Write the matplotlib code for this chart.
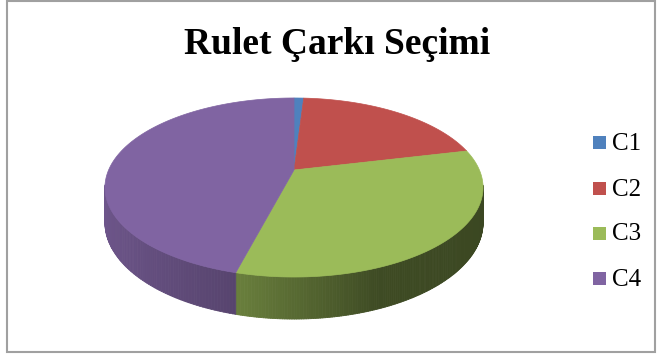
import numpy as np
import matplotlib.pyplot as plt
from matplotlib.patches import Polygon, Rectangle
from matplotlib.collections import PolyCollection
from matplotlib.colors import to_rgb

# Dados (porcentagens)
labels = ["C1", "C2", "C3", "C4"]
values = [1.0, 20.3, 32.8, 45.9]
colors = ["#4F81BD", "#C0504D", "#9BBB59", "#8064A2"]
title = "Rulet Çarkı Seçimi"

# geometria da pizza 3D (em pixels)
cx, cy = 294, 170      # centro projetado
A, B = 185.4, 86.1     # raios
k = 0.1955             # perspectiva
D = 33.8               # espessura


def proj(theta):
    t = np.radians(theta)
    u, v = np.sin(t), np.cos(t)
    w = 1 + k * v
    return cx + A * u / w, cy - B * v / w, D / w, u, v


fig = plt.figure(figsize=(6.6, 3.56), dpi=100)
ax = fig.add_axes([0, 0, 1, 1])
ax.set_xlim(0, 660)
ax.set_ylim(356, 0)
ax.axis("off")

bounds = np.concatenate([[0], np.cumsum(values)]) / sum(values) * 360

for i in range(len(values)):
    th = np.linspace(bounds[i], bounds[i + 1], 200)
    x, y, d, u, v = proj(th)
    base = np.array(to_rgb(colors[i]))

    # lateral
    quads, cols = [], []
    for j in range(len(th) - 1):
        if (v[j] + v[j + 1]) / 2 > -k + 0.03:
            continue
        quads.append([(x[j], y[j]), (x[j + 1], y[j + 1]),
                      (x[j + 1], y[j + 1] + d[j + 1]), (x[j], y[j] + d[j])])
        f = np.interp((u[j] + u[j + 1]) / 2, [-1, -0.25, 0.37, 1],
                      [0.86, 0.68, 0.40, 0.38])
        cols.append(np.clip(base * f, 0, 1))
    if quads:
        ax.add_collection(PolyCollection(quads, facecolors=cols, edgecolors=cols,
                                         linewidths=0.6, zorder=1))

    # topo
    pts = np.column_stack([np.r_[cx, x], np.r_[cy, y]])
    ax.add_patch(Polygon(pts, closed=True, facecolor=colors[i],
                         edgecolor=colors[i], lw=0.5, zorder=2))

ax.text(337.5, 54, title, ha="center", va="baseline", fontsize=27,
        fontweight="bold", family="Liberation Serif")

leg_y = [142, 188, 233, 278]
for lab, col, yc in zip(labels, colors, leg_y):
    ax.add_patch(Rectangle((593, yc - 6.5), 13, 13, facecolor=col, edgecolor="none"))
    ax.text(612, yc + 7.5, lab, ha="left", va="baseline", fontsize=18,
            family="Liberation Serif")

ax.add_patch(Rectangle((6.5, 1), 648, 351, fill=False, edgecolor="#A0A0A0", lw=1.5))

fig.savefig("out.png", dpi=100)
